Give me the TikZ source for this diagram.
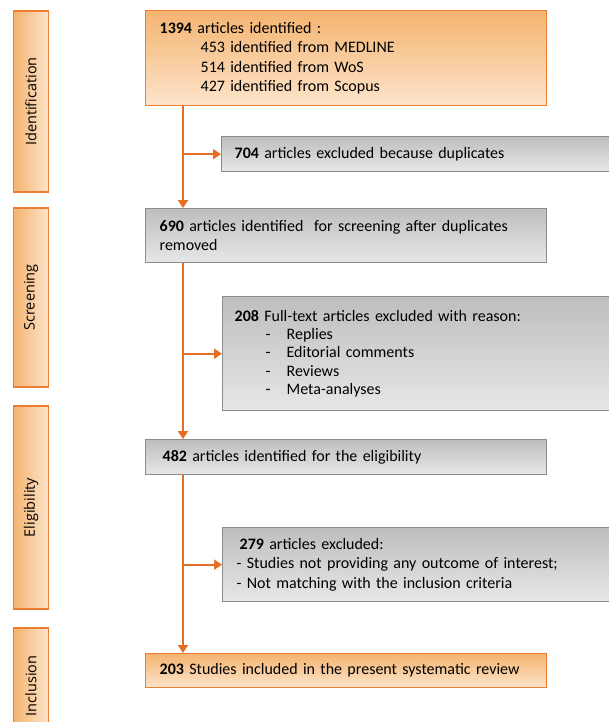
\documentclass[tikz,border=0pt]{standalone}
\usepackage{fontspec}
\setmainfont{Carlito}
\newfontfamily\barfont{Open Sans}
\usepackage{tikz}
\usetikzlibrary{arrows.meta, positioning}
\usepackage{xcolor}
\definecolor{prismaorange}{RGB}{237,125,49}
\definecolor{arroworange}{RGB}{229,110,36}
\definecolor{orangetop}{RGB}{244,180,112}
\definecolor{orangebot}{RGB}{253,228,203}
\definecolor{greytop}{RGB}{190,190,190}
\definecolor{greybot}{RGB}{231,231,231}
\definecolor{greyline}{RGB}{140,140,140}

\begin{document}
\begin{tikzpicture}[
    x=1pt, y=-1pt,
    stepbase/.style={rectangle, line width=1.3pt, align=left, anchor=north west, inner xsep=14pt, inner ysep=0pt, font=\fontsize{16}{19.5}\selectfont},
    orangebox/.style={stepbase, draw=prismaorange, top color=orangetop, bottom color=orangebot},
    greybox/.style={stepbase, draw=greyline, top color=greytop, bottom color=greybot},
    stagebar/.style={rectangle, draw=prismaorange, line width=1.3pt, rotate=90, minimum height=35pt, inner sep=0pt, left color=orangetop, right color=orangebot, font=\barfont\fontsize{14.5}{16}\selectfont},
    arrow/.style={-{Triangle[length=8pt, width=10pt]}, line width=2pt, draw=arroworange}
]
\useasboundingbox (0,0) rectangle (609,722);
\clip (0,0) rectangle (609,722);

% stage bars on the left
\node[stagebar, minimum width=181pt] (barIdent) at (31,101.5) {Identification};
\node[stagebar, minimum width=179pt] (barScreen) at (31,297.5) {Screening};
\node[stagebar, minimum width=203pt] (barElig) at (31,507.5) {Eligibility};
\node[stagebar, minimum width=116pt] (barIncl) at (31,686) {Inclusion};

% main flow
\node[orangebox, text width=373pt, minimum height=95pt] (ident) at (145,10) {\textbf{1394} articles identified :\\
    \hspace*{41pt}453 identified from MEDLINE\\
    \hspace*{41pt}514 identified from WoS\\
    \hspace*{41pt}427 identified from Scopus};
\node[greybox, text width=373pt, minimum height=54pt] (screen) at (145,208) {\textbf{690} articles identified \ for screening after duplicates\\ removed};
\node[greybox, inner xsep=17pt, text width=367pt, minimum height=35pt] (elig) at (145,439) {\textbf{482} articles identified for the eligibility};
\node[orangebox, text width=373pt, minimum height=34pt] (incl) at (145,653) {\textbf{203} Studies included in the present systematic review};

% excluded boxes
\node[greybox, inner xsep=13pt, text width=400pt, minimum height=35pt] (dupl) at (221,136) {\textbf{704} articles excluded because duplicates};
\node[greybox, inner xsep=12pt, text width=400pt, minimum height=114pt, font=\fontsize{16}{18.3}\selectfont] (fulltext) at (222,296) {\textbf{208} Full-text articles excluded with reason:\\
    \hspace*{31pt}\makebox[21pt][l]{-}Replies\\
    \hspace*{31pt}\makebox[21pt][l]{-}Editorial comments\\
    \hspace*{31pt}\makebox[21pt][l]{-}Reviews\\
    \hspace*{31pt}\makebox[21pt][l]{-}Meta-analyses};
\node[greybox, text width=400pt, minimum height=74pt] (excl) at (222,527) {\hspace*{3pt}\textbf{279} articles excluded:\\
    - Studies not providing any outcome of interest;\\
    - Not matching with the inclusion criteria};

% connectors
\coordinate (trunk) at (183,0);
\draw[arrow] (ident.south -| trunk) -- (screen.north -| trunk);
\draw[arrow] (screen.south -| trunk) -- (elig.north -| trunk);
\draw[arrow] (elig.south -| trunk) -- (incl.north -| trunk);
\draw[arrow] (trunk |- dupl.west) -- (dupl.west);
\draw[arrow] (trunk |- fulltext.west) -- (fulltext.west);
\draw[arrow] (trunk |- excl.west) -- (excl.west);
\end{tikzpicture}
\end{document}
